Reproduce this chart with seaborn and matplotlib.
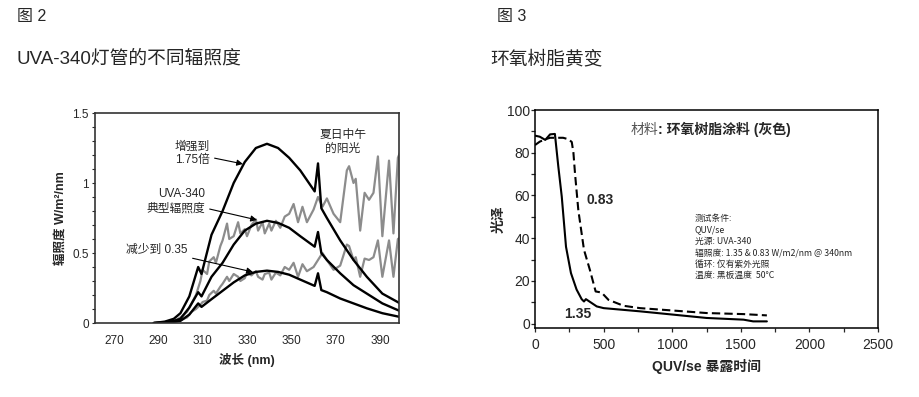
# ================================
# UVA-340 IRRADIANCE + EPOXY GLOSS LOSS
# ================================

import numpy as np
import matplotlib.pyplot as plt
import seaborn as sns
from matplotlib.ticker import MultipleLocator

# ================================
# 1. DATA
# ================================

# Fig 2 - lamp spectra (W/m2/nm)
lamp_nm = [288, 293, 297, 300, 304, 308, 309.5, 314, 319, 324, 329, 334, 339, 344, 349,
           354, 360.5, 362, 363.5, 366, 372, 378, 384, 391, 399]
boost_175 = [0.0, 0.01, 0.03, 0.07, 0.19, 0.40, 0.35, 0.63, 0.80, 1.00, 1.15, 1.25, 1.28,
             1.25, 1.18, 1.09, 0.94, 1.14, 0.82, 0.75, 0.59, 0.45, 0.33, 0.21, 0.14]
typical_340 = [0.0, 0.006, 0.015, 0.03, 0.11, 0.22, 0.19, 0.33, 0.43, 0.56, 0.66, 0.71,
               0.73, 0.715, 0.68, 0.62, 0.545, 0.65, 0.50, 0.45, 0.355, 0.27, 0.21, 0.14, 0.085]
reduced_035 = [0.0, 0.003, 0.008, 0.015, 0.06, 0.14, 0.115, 0.17, 0.23, 0.29, 0.34, 0.365,
               0.374, 0.365, 0.345, 0.31, 0.265, 0.355, 0.235, 0.22, 0.175, 0.14, 0.105, 0.07, 0.043]

# noon sunlight (two grey traces)
sun_nm = [296, 300, 303, 305, 307, 309, 310, 312, 313, 315, 316, 318, 319, 321, 322,
          324, 326, 327, 329, 330, 332, 334, 335, 337, 338, 340, 341, 343, 345, 347,
          349, 351, 353, 355, 357, 360, 362, 364, 366, 369, 372, 375, 376, 378, 379,
          381, 383, 385, 387, 389, 391, 394, 396, 398, 399]
sun_high = [0.0, 0.04, 0.08, 0.14, 0.20, 0.30, 0.38, 0.35, 0.44, 0.47, 0.43, 0.55, 0.59, 0.71, 0.60,
            0.62, 0.72, 0.64, 0.67, 0.62, 0.70, 0.74, 0.66, 0.72, 0.64, 0.71, 0.66, 0.73, 0.68, 0.76,
            0.78, 0.85, 0.72, 0.83, 0.72, 0.81, 0.90, 0.83, 0.89, 0.78, 0.72, 1.09, 1.12, 1.00, 1.03,
            0.66, 0.93, 0.88, 0.93, 1.19, 0.62, 1.16, 0.64, 1.18, 1.22]
sun_low = [0.0, 0.02, 0.04, 0.08, 0.10, 0.13, 0.15, 0.16, 0.20, 0.23, 0.21, 0.26, 0.28, 0.33, 0.30,
           0.35, 0.33, 0.30, 0.32, 0.36, 0.34, 0.37, 0.33, 0.31, 0.35, 0.36, 0.31, 0.36, 0.34, 0.40,
           0.38, 0.43, 0.33, 0.42, 0.37, 0.40, 0.45, 0.50, 0.45, 0.38, 0.41, 0.56, 0.55, 0.45, 0.47,
           0.33, 0.46, 0.45, 0.47, 0.59, 0.33, 0.59, 0.33, 0.60, 0.61]

wl_ticks = [270, 290, 310, 330, 350, 370, 390]

# Fig 3 - gloss vs QUV/se exposure
hours_135 = [0, 35, 75, 110, 145, 170, 195, 226, 262, 303, 340, 357, 371, 450, 500,
             765, 1000, 1250, 1520, 1590, 1690]
gloss_135 = [88, 87.5, 86, 88.6, 88.8, 73.5, 59.5, 36, 23.7, 16, 11.5, 10.4, 11.5, 8.1, 7.3,
             5.8, 4.3, 2.7, 1.9, 1.1, 1.1]
hours_083 = [0, 35, 75, 110, 205, 245, 268, 280, 292, 316, 357, 400, 442, 485, 535,
             645, 765, 1000, 1250, 1520, 1690]
gloss_083 = [83.6, 85.2, 86.3, 87, 87, 86.3, 85, 80, 70, 53, 34.6, 25.2, 15.1, 14.6, 11.2,
             8.4, 7.3, 6.2, 5.0, 4.5, 3.9]

test_conditions = ["测试条件:", "QUV/se", "光源: UVA-340",
                   "辐照度: 1.35 & 0.83 W/m2/nm @ 340nm",
                   "循环: 仅有紫外光照", "温度: 黑板温度  50°C"]

# ================================
# 2. STYLE
# ================================

sns.set_style("ticks")
plt.rcParams['font.family'] = ['Liberation Sans', 'Noto Sans CJK SC']
plt.rcParams['axes.unicode_minus'] = False

fig = plt.figure(figsize=(9.2, 3.97), dpi=100)

fig.text(17 / 920, 1 - 17 / 397, "图 2", fontsize=11.5, va='center', ha='left')
fig.text(17 / 920, 1 - 59 / 397, "UVA-340灯管的不同辐照度", fontsize=13.5, va='center', ha='left')
fig.text(497 / 920, 1 - 17 / 397, "图 3", fontsize=11.5, va='center', ha='left')
fig.text(490 / 920, 1 - 59 / 397, "环氧树脂黄变", fontsize=13.5, va='center', ha='left')

# ================================
# 3. FIG 2 - SPECTRA
# ================================

ax1 = fig.add_axes([95 / 920, 74 / 397, 304 / 920, 210 / 397])
grey = "#8c8c8c"
sns.lineplot(x=sun_nm, y=sun_high, ax=ax1, color=grey, lw=1.6, estimator=None)
sns.lineplot(x=sun_nm, y=sun_low, ax=ax1, color=grey, lw=1.6, estimator=None)
for series in (boost_175, typical_340, reduced_035):
    sns.lineplot(x=lamp_nm, y=series, ax=ax1, color="black", lw=1.7, estimator=None)

ax1.set_xlim(261.5, 398.5)
ax1.set_ylim(0, 1.5)
ax1.set_xticks(wl_ticks)
ax1.set_yticks([0, 0.5, 1, 1.5])
ax1.set_yticklabels(["0", "0.5", "1", "1.5"])
ax1.yaxis.set_minor_locator(MultipleLocator(0.1))
ax1.tick_params(axis='x', length=0, pad=9, labelsize=8.5)
ax1.tick_params(axis='y', which='both', length=2.5, width=0.8, pad=2, labelsize=8.5)
for sp in ax1.spines.values():
    sp.set_visible(True)
    sp.set_color("#333333")
    sp.set_linewidth(1.2)
ax1.set_xlabel("波长 (nm)", fontsize=9, fontweight='bold', labelpad=4)
ax1.set_ylabel("辐照度 W/m²/nm", fontsize=9, fontweight='bold', labelpad=4)

arrow = dict(arrowstyle='-|>', color='black', lw=0.8, mutation_scale=9, shrinkA=1, shrinkB=0)
ax1.annotate("增强到\n1.75倍", xy=(328.2, 1.136), xytext=(313.3, 1.21), ha='right', va='center',
             fontsize=8.5, multialignment='right', arrowprops=arrow)
ax1.annotate("UVA-340\n典型辐照度", xy=(334.5, 0.736), xytext=(311.1, 0.87), ha='right', va='center',
             fontsize=8.5, multialignment='right', arrowprops=arrow)
ax1.annotate("减少到 0.35", xy=(332.7, 0.364), xytext=(303.4, 0.52), ha='right', va='center',
             fontsize=8.5, arrowprops=arrow)
ax1.text(373.3, 1.296, "夏日中午\n的阳光", ha='center', va='center', fontsize=8.5)

# ================================
# 4. FIG 3 - GLOSS
# ================================

ax2 = fig.add_axes([535 / 920, 69 / 397, 343 / 920, 218 / 397])
sns.lineplot(x=hours_135, y=gloss_135, ax=ax2, color="black", lw=1.5, estimator=None)
sns.lineplot(x=hours_083, y=gloss_083, ax=ax2, color="black", lw=1.5, estimator=None,
             linestyle=(0, (4, 2)))

ax2.set_xlim(0, 2500)
ax2.set_ylim(-2, 100)
ax2.set_xticks(np.arange(0, 2501, 500))
ax2.xaxis.set_minor_locator(MultipleLocator(250))
ax2.set_yticks(np.arange(0, 101, 20))
ax2.yaxis.set_minor_locator(MultipleLocator(10))
ax2.tick_params(axis='x', which='both', direction='out', length=3, width=0.9, pad=4, labelsize=10)
ax2.tick_params(axis='y', which='both', direction='out', length=3, width=0.9, pad=0.5, labelsize=10)
for sp in ax2.spines.values():
    sp.set_visible(True)
    sp.set_color("black")
    sp.set_linewidth(1.1)
ax2.set_xlabel("QUV/se 暴露时间", fontsize=10, fontweight='bold', labelpad=5)
ax2.set_ylabel("光泽", fontsize=10, fontweight='bold', labelpad=1)

ax2.text(474, 58, "0.83", fontsize=10, fontweight='bold', ha='center', va='center')
ax2.text(308, 4.5, "1.35", fontsize=10, fontweight='bold', ha='center', va='center')
ax2.text(900, 90.7, "材料", fontsize=10, color="#555555", ha='right', va='center')
ax2.text(900, 90.7, ": 环氧树脂涂料 (灰色)", fontsize=10, fontweight='bold', ha='left', va='center')
ax2.text(1166, 51.5, "\n".join(test_conditions), fontsize=6.3, ha='left', va='top',
         linespacing=1.35, family=['Noto Sans CJK SC', 'DejaVu Sans'])

fig.savefig("out.png", dpi=100)
